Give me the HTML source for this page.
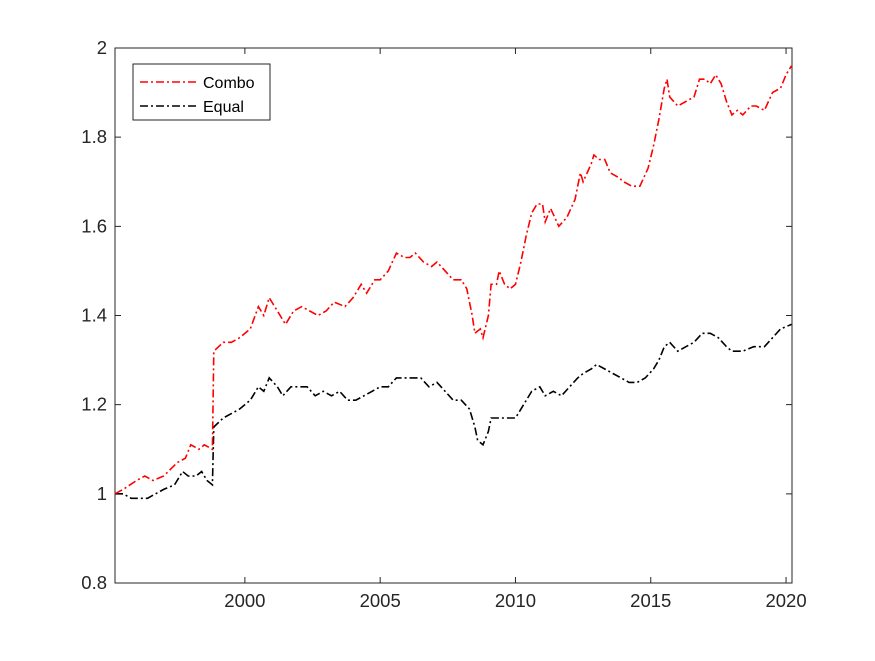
<!DOCTYPE html>
<html><head><meta charset="utf-8"><style>
body{margin:0;background:#fff;}
svg text{font-family:"Liberation Sans",Arial,sans-serif;}
</style></head><body>
<svg id="chart" width="875" height="656" xmlns="http://www.w3.org/2000/svg">
<rect x="0" y="0" width="875" height="656" fill="#fff"/>
<g id="plot"></g>
</svg>
<script>
const comboYears=[1995.2,1995.5,1996,1996.3,1996.6,1997,1997.5,1997.8,1998,1998.3,1998.5,1998.8,1998.85,1999.2,1999.5,1999.8,2000.2,2000.5,2000.7,2000.9,2001.2,2001.5,2001.8,2002.1,2002.4,2002.7,2003,2003.3,2003.7,2004,2004.3,2004.5,2004.8,2005,2005.3,2005.6,2005.9,2006.1,2006.3,2006.6,2006.9,2007.1,2007.4,2007.7,2008,2008.2,2008.4,2008.5,2008.7,2008.8,2009,2009.1,2009.3,2009.4,2009.6,2009.8,2010,2010.2,2010.4,2010.6,2010.8,2011,2011.1,2011.3,2011.6,2011.9,2012.2,2012.4,2012.5,2012.8,2012.9,2013.1,2013.3,2013.5,2013.8,2014,2014.3,2014.6,2014.9,2015.1,2015.3,2015.5,2015.6,2015.7,2016,2016.3,2016.6,2016.8,2017,2017.2,2017.4,2017.6,2017.8,2018,2018.2,2018.4,2018.7,2018.9,2019.2,2019.5,2019.8,2020,2020.2];
const comboValues=[1.0,1.01,1.03,1.04,1.03,1.04,1.07,1.08,1.11,1.10,1.11,1.10,1.32,1.34,1.34,1.35,1.37,1.42,1.40,1.44,1.41,1.38,1.41,1.42,1.41,1.40,1.41,1.43,1.42,1.44,1.47,1.45,1.48,1.48,1.50,1.54,1.53,1.53,1.54,1.52,1.51,1.52,1.50,1.48,1.48,1.46,1.40,1.36,1.37,1.35,1.40,1.47,1.47,1.50,1.47,1.46,1.47,1.52,1.58,1.63,1.65,1.65,1.61,1.64,1.60,1.62,1.66,1.72,1.70,1.74,1.76,1.75,1.75,1.72,1.71,1.70,1.69,1.69,1.73,1.78,1.84,1.91,1.93,1.89,1.87,1.88,1.89,1.93,1.93,1.92,1.94,1.92,1.88,1.85,1.86,1.85,1.87,1.87,1.86,1.90,1.91,1.94,1.96];
const equalYears=[1995.2,1995.5,1995.8,1996.2,1996.4,1996.7,1997,1997.4,1997.7,1997.9,1998.2,1998.4,1998.6,1998.8,1998.85,1999.2,1999.5,1999.8,2000.2,2000.5,2000.7,2000.9,2001.2,2001.4,2001.7,2002,2002.3,2002.6,2002.9,2003.2,2003.5,2003.8,2004.1,2004.4,2004.7,2005,2005.3,2005.6,2005.9,2006.2,2006.5,2006.8,2007.1,2007.4,2007.7,2008,2008.3,2008.5,2008.6,2008.8,2009,2009.1,2009.4,2009.7,2010,2010.3,2010.6,2010.9,2011.1,2011.4,2011.7,2012,2012.3,2012.5,2012.8,2013,2013.3,2013.6,2013.9,2014.2,2014.5,2014.8,2015.1,2015.3,2015.5,2015.7,2016,2016.3,2016.6,2016.9,2017.2,2017.5,2017.8,2018,2018.4,2018.8,2019.2,2019.5,2019.8,2020.2];
const equalValues=[1.00,1.00,0.99,0.99,0.99,1.00,1.01,1.02,1.05,1.04,1.04,1.05,1.03,1.02,1.15,1.17,1.18,1.19,1.21,1.24,1.23,1.26,1.24,1.22,1.24,1.24,1.24,1.22,1.23,1.22,1.23,1.21,1.21,1.22,1.23,1.24,1.24,1.26,1.26,1.26,1.26,1.24,1.25,1.23,1.21,1.21,1.19,1.15,1.12,1.11,1.14,1.17,1.17,1.17,1.17,1.20,1.23,1.24,1.22,1.23,1.22,1.24,1.26,1.27,1.28,1.29,1.28,1.27,1.26,1.25,1.25,1.26,1.28,1.30,1.33,1.34,1.32,1.33,1.34,1.36,1.36,1.35,1.33,1.32,1.32,1.33,1.33,1.35,1.37,1.38];
const xTicks=[2000,2005,2010,2015,2020];
const yTicks=[0.8,1,1.2,1.4,1.6,1.8,2];
const yTickLabels=["0.8","1","1.2","1.4","1.6","1.8","2"];
const seriesNames=["Combo","Equal"];

const L=115,R=792,T=48,B=583,X0=1995.2,X1=2020.22,Y0=0.8,Y1=2;
const sx=v=>L+(v-X0)/(X1-X0)*(R-L);
const sy=v=>B-(v-Y0)/(Y1-Y0)*(B-T);
const NS="http://www.w3.org/2000/svg";
const g=document.getElementById('plot');
function mk(tag,attrs,parent){const e=document.createElementNS(NS,tag);for(const k in attrs)e.setAttribute(k,attrs[k]);(parent||g).appendChild(e);return e;}

const frame=mk('rect',{x:L,y:T,width:R-L,height:B-T,fill:'#fff',stroke:'#262626','stroke-width':1});



xTicks.forEach(t=>{
  const x=sx(t);
  const tk=mk('path',{d:`M${x},${B}v-6M${x},${T}v6`,stroke:'#262626'});
  
  
  const tx=mk('text',{x:x,y:B+24,'text-anchor':'middle','font-size':18.5,fill:'#262626'});
  tx.textContent=t;
  
  
});
yTicks.forEach((t,i)=>{
  const y=sy(t);
  const tk=mk('path',{d:`M${L},${y}h6M${R},${y}h-6`,stroke:'#262626'});
  
  
  const tx=mk('text',{x:L-8,y:y+6,'text-anchor':'end','font-size':18.5,fill:'#262626'});
  tx.textContent=yTickLabels[i];
  
  
});

function line(xs,vs,color,name){
  const d=xs.map((x,i)=>(i?'L':'M')+sx(x).toFixed(1)+','+sy(vs[i]).toFixed(1)).join('');
  const p=mk('path',{d:d,fill:'none',stroke:color,'stroke-width':1.6,'stroke-dasharray':'8,3,2,3'});
  
  
}
line(equalYears,equalValues,'#000','equal-line');
line(comboYears,comboValues,'#ff0000','combo-line');

const lg=mk('g',{});


mk('rect',{x:133,y:64,width:137,height:56,fill:'#fff',stroke:'#262626','stroke-width':1},lg);
[['#ff0000',seriesNames[0],82],['#000',seriesNames[1],106]].forEach(([c,n,y])=>{
  const s=mk('path',{d:`M140,${y}h58`,stroke:c,'stroke-width':1.6,'stroke-dasharray':'8,3,2,3'},lg);
  
  
  const t=mk('text',{x:203,y:y+6,'font-size':16,fill:'#000'},lg);
  t.textContent=n;
  
  
});
</script>
</body></html>
